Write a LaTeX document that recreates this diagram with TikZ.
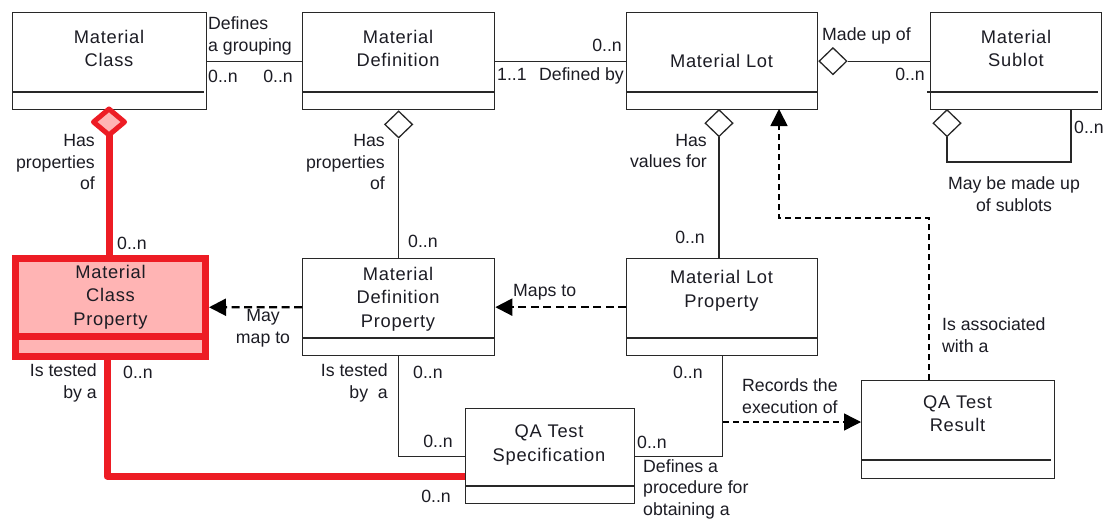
\documentclass[tikz,border=0pt]{standalone}
\usepackage{fontspec}
\setmainfont{Liberation Sans}
\newfontfamily\titlefont[LetterSpace=4]{Liberation Sans}
\usetikzlibrary{arrows.meta,shapes.geometric,calc}
\definecolor{redc}{RGB}{237,28,36}
\definecolor{pinkc}{RGB}{255,180,180}
\definecolor{txtc}{RGB}{28,28,36}
\definecolor{linec}{RGB}{40,40,40}
\tikzset{
  box/.style={draw=linec, line width=1.3, inner sep=0, anchor=north west},
  redbox/.style={draw=redc, fill=pinkc, line width=7, inner sep=0, anchor=north west},
  sepline/.style={draw=linec, line width=1.3},
  title/.style={text=txtc, align=center, inner sep=0, font=\titlefont\fontsize{18.3}{23.5}\selectfont},
  lbl/.style={text=txtc, inner sep=0, font=\fontsize{17.7}{21.5}\selectfont},
  conn/.style={draw=linec, line width=1.3},
  redconn/.style={draw=redc, line width=7, line join=round},
  dia/.style={diamond, draw=linec, fill=white, line width=1.3, minimum width=28, minimum height=27, inner sep=0, anchor=north},
  rdiapath/.style={draw=redc, fill=pinkc, line width=5, line join=round},
  dashthick/.style={draw=black, line width=2.2, dash pattern=on 8pt off 4.5pt},
  dashthin/.style={draw=black, line width=1.4, dash pattern=on 6pt off 4pt},
  tip/.style={-{Triangle[length=17pt,width=17pt]}}
}
\begin{document}
\begin{tikzpicture}[x=1pt,y=-1pt]
\fill[white] (0,0) rectangle (1107,519);
\useasboundingbox (0,0) rectangle (1107,519);

% ---- boxes ----
\node[box, minimum width=194, minimum height=97] (mc) at (12,12) {};
\node[box, minimum width=192, minimum height=97] (md) at (302,12) {};
\node[box, minimum width=191, minimum height=97] (ml) at (626,12) {};
\node[box, minimum width=171, minimum height=97] (ms) at (930,12) {};
\node[redbox, minimum width=190, minimum height=97.5] (mcp) at (12,255) {};
\node[box, minimum width=192, minimum height=97] (mdp) at (302,258) {};
\node[box, minimum width=191, minimum height=97] (mlp) at (626,258) {};
\node[box, minimum width=169, minimum height=95] (qs) at (465,408) {};
\node[box, minimum width=193, minimum height=98] (qr) at (861,380) {};

% separators
\draw[sepline] (12,92) -- (204,92);
\draw[sepline] (302,92) -- (494,92);
\draw[sepline] (626,92) -- (817,92);
\draw[sepline] (927,92) -- (1098,92);
\draw[redc, line width=7] (15.5,336.5) -- (205.5,336.5);
\draw[sepline] (302,338) -- (494,338);
\draw[sepline] (626,338) -- (817,338);
\draw[sepline] (465,486) -- (634,486);
\draw[sepline] (861,460) -- (1051,460);

% titles
\node[title] (mct) at (109,48.5) {Material\\Class};
\node[title] (mdt) at (398,48.5) {Material\\Definition};
\node[title] (mlt) at (721.5,61) {Material Lot};
\node[title] (mst) at (1016,48.5) {Material\\Sublot};
\node[title] (mcpt) at (110.5,297) {Material\\Class\\Property};
\node[title] (mdpt) at (398,299) {Material\\Definition\\Property};
\node[title] (mlpt) at (721.5,291) {Material Lot\\Property};
\node[title] (qst) at (549,445) {QA Test\\Specification};
\node[title] (qrt) at (957.5,413.5) {QA Test\\Result};

% ---- connectors ----
% Material Class -- Material Definition
\draw[conn] (mc.east) -- (md.west);
\node[lbl, align=left, anchor=west] (l1) at (208,36) {Defines\\a grouping};
\node[lbl, anchor=west] (l2) at (208,76) {0..n};
\node[lbl, anchor=east] (l3) at (293,76) {0..n};

% Material Definition -- Material Lot
\draw[conn] (md.east) -- (ml.west);
\node[lbl, anchor=east] (l4) at (622,45) {0..n};
\node[lbl, anchor=west] (l5) at (497,74) {1..1};
\node[lbl, anchor=east] (l6) at (624,76) {Defined by};

% Material Lot -- Material Sublot
\node[dia, anchor=west] (d3) at (ml.east) {};
\draw[conn] (d3.east) -- (ms.west);
\node[lbl, anchor=west] (l7) at (822,36) {Made up of};
\node[lbl, anchor=east] (l8) at (925,74) {0..n};

% Sublot self loop
\node[dia] (d4) at (947,109) {};
\coordinate (loopc) at (1071,162);
\draw[conn] (d4.south) |- (loopc) -- (loopc |- ms.south);
\node[lbl, anchor=west] (l9) at (1074,127) {0..n};
\node[lbl, align=center] (l10) at (1014,194) {May be made up\\of sublots};

% Material Class -> Material Class Property (red)
\coordinate (d1c) at (109,122);
\draw[redconn] (d1c) -- (d1c |- mcp.north);
\draw[rdiapath] (109,109) -- (124.5,122) -- (109,135) -- (93.5,122) -- cycle;
\node[lbl, align=right, anchor=east] (l11) at (95,162) {Has\\properties\\of};
\node[lbl, anchor=west] (l12) at (117,243) {0..n};

% Material Definition -> Material Definition Property
\node[dia] (d2) at (md.south) {};
\draw[conn] (d2.south) -- (mdp.north);
\node[lbl, align=right, anchor=east] (l13) at (385,162) {Has\\properties\\of};
\node[lbl, anchor=west] (l14) at (408,241) {0..n};

% Material Lot -> Material Lot Property
\node[dia] (d5) at (719,109) {};
\draw[conn] (d5.south) -- (d5.south |- mlp.north);
\node[lbl, align=right, anchor=east] (l15) at (707,151) {Has\\values for};
\node[lbl, anchor=east] (l16) at (705,237) {0..n};

% QA Test Result -> Material Lot (dashed)
\coordinate (qra) at (929,380);
\coordinate (bend) at (779,218);
\coordinate (mla) at (779,109);
\draw[dashthin, line width=1.6, tip] (qra) |- (bend) -- (mla);
\node[lbl, align=left, anchor=west] (l17) at (942,335) {Is associated\\with a};

% Maps to
\draw[dashthick, tip] (mlp.west) -- (mdp.east);
\node[lbl, anchor=west] (l18) at (513,292) {Maps to};

% May map to
\draw[dashthick, tip] (mdp.west) -- (mcp.east);
\node[lbl, align=center] (l19) at (263,328) {May\\map to};

% Material Definition Property -> QA Test Specification
\draw[conn] (mdp.south) |- (qs.west);
\node[lbl, align=right, anchor=east] (l20) at (388,383) {Is tested\\by~~a};
\node[lbl, anchor=west] (l21) at (413,372) {0..n};
\node[lbl, anchor=east] (l22) at (453,441) {0..n};

% Material Class Property -> QA Test Specification (red)
\coordinate (mcps) at (107,359);
\coordinate (qsr) at (465,476);
\draw[redconn] (mcps) |- (qsr);
\node[lbl, align=right, anchor=east] (l23) at (97,383) {Is tested\\by a};
\node[lbl, anchor=west] (l24) at (123,372) {0..n};
\node[lbl, anchor=east] (l25) at (451,496) {0..n};

% Material Lot Property -> QA Test Specification
\draw[conn] (mlp.south) |- (qs.east);
\node[lbl, anchor=west] (l26) at (673,372) {0..n};
\node[lbl, anchor=west] (l27) at (637,442) {0..n};
\node[lbl, align=left, anchor=west] (l28) at (643,489) {Defines a\\procedure for\\obtaining a};

% Records the execution of
\coordinate (rec) at (723,422);
\draw[dashthin, tip] (rec) -- (rec -| qr.west);
\node[lbl, align=left, anchor=west] (l29) at (742,396) {Records the\\execution of};
\end{tikzpicture}
\end{document}
